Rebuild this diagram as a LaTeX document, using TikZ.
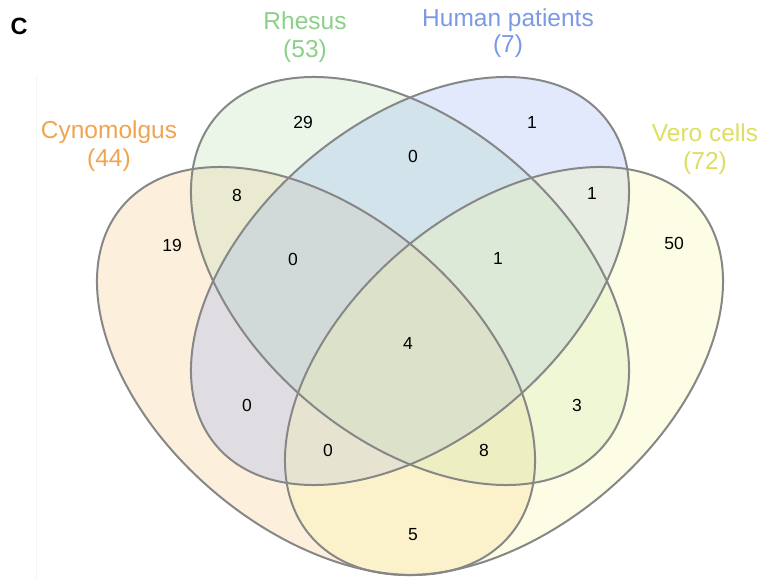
\documentclass[tikz,border=0pt]{standalone}
\usepackage{fontspec}
\setmainfont{Liberation Sans}
\definecolor{cyfill}{RGB}{247,195,119}
\definecolor{rhfill}{RGB}{179,223,171}
\definecolor{hufill}{RGB}{143,171,247}
\definecolor{vefill}{RGB}{251,251,155}
\definecolor{cytext}{RGB}{239,165,80}
\definecolor{rhtext}{RGB}{140,208,138}
\definecolor{hutext}{RGB}{122,154,230}
\definecolor{vetext}{RGB}{222,222,96}
\definecolor{edge}{RGB}{135,135,135}
\definecolor{frameline}{RGB}{245,245,245}
\tikzset{
  setfill/.style={fill=#1, fill opacity=0.25, draw=none},
  setedge/.style={draw=edge, line width=2pt, fill=none},
  count/.style={inner sep=0pt, font=\fontsize{17.5}{20}\selectfont, text=black},
  setlabel/.style={anchor=base, inner sep=0pt, font=\fontsize{24.5}{29}\selectfont, text=#1},
}
\begin{document}
\begin{tikzpicture}[x=1pt,y=1pt]
\useasboundingbox (0,0) rectangle (759,579);
\fill[white] (0,0) rectangle (759,579);
\draw[frameline, line width=0.8pt] (36,0) -- (36,504);
% fills
\fill[setfill=cyfill, shift={(316,208)}, rotate=-40.4] (0,0) ellipse [x radius=254.2, y radius=158];
\fill[setfill=rhfill, shift={(410,298)}, rotate=-40.4] (0,0) ellipse [x radius=254.2, y radius=158];
\fill[setfill=hufill, shift={(410,298)}, rotate=40.4] (0,0) ellipse [x radius=254.2, y radius=158];
\fill[setfill=vefill, shift={(504,208)}, rotate=40.4] (0,0) ellipse [x radius=254.2, y radius=158];
% outlines
\draw[setedge, shift={(316,208)}, rotate=-40.4] (0,0) ellipse [x radius=254.2, y radius=158];
\draw[setedge, shift={(410,298)}, rotate=-40.4] (0,0) ellipse [x radius=254.2, y radius=158];
\draw[setedge, shift={(410,298)}, rotate=40.4] (0,0) ellipse [x radius=254.2, y radius=158];
\draw[setedge, shift={(504,208)}, rotate=40.4] (0,0) ellipse [x radius=254.2, y radius=158];
% panel letter
\node[inner sep=0pt, font=\fontsize{23.5}{27}\selectfont\bfseries] (panel) at (19,552.5) {C};
% set labels
\node[setlabel=rhtext] (rh1) at (305,549) {Rhesus};
\node[setlabel=rhtext] (rh2) at (305,521) {(53)};
\node[setlabel=hutext] (hu1) at (508,552) {Human patients};
\node[setlabel=hutext] (hu2) at (508,526) {(7)};
\node[setlabel=cytext] (cy1) at (109,440) {Cynomolgus};
\node[setlabel=cytext] (cy2) at (109,412) {(44)};
\node[setlabel=vetext] (ve1) at (705,437) {Vero cells};
\node[setlabel=vetext] (ve2) at (705,409) {(72)};
% counts
\node[count] (nR) at (303,457) {29};
\node[count] (nCR) at (237,384) {8};
\node[count] (nC) at (172,334) {19};
\node[count] (nCRH) at (293,320) {0};
\node[count] (nRH) at (413,423) {0};
\node[count] (nH) at (532,457) {1};
\node[count] (nHV) at (592,386) {1};
\node[count] (nV) at (674,336) {50};
\node[count] (nRHV) at (498,321) {1};
\node[count] (nAll) at (408,236) {4};
\node[count] (nRV) at (577,174) {3};
\node[count] (nCRV) at (484,129) {8};
\node[count] (nCV) at (413,44) {5};
\node[count] (nCH) at (247,174) {0};
\node[count] (nCHV) at (328,129) {0};
\end{tikzpicture}
\end{document}
